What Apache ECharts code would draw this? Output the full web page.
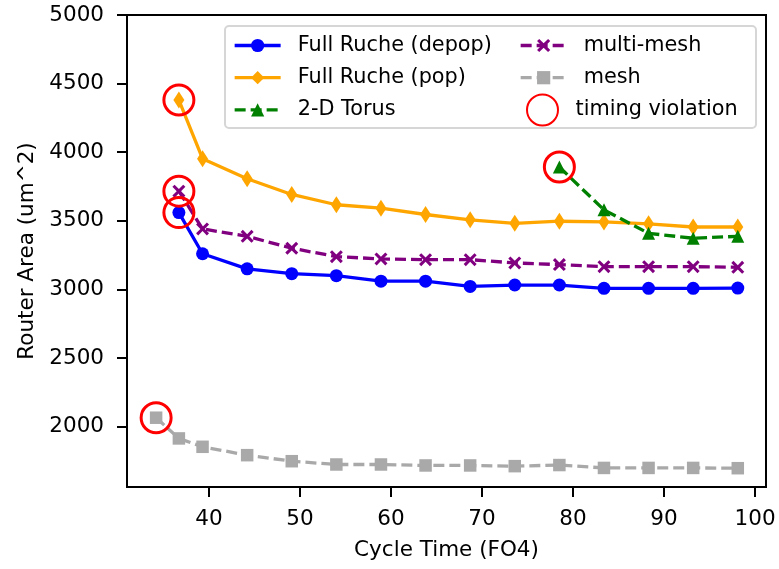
<!DOCTYPE html>
<html><head><meta charset="utf-8">
<script src="https://cdn.jsdelivr.net/npm/echarts@6/dist/echarts.min.js"></script>
<style>html,body{margin:0;padding:0;background:#fff}#c{width:779px;height:569px}</style>
</head><body><div id="c"></div>
<script>
// ---- data ----
const cycleTimes = [34.2, 36.7, 39.3, 44.2, 49.1, 54.0, 58.9, 63.8, 68.7, 73.6, 78.5, 83.4, 88.3, 93.2, 98.1];
const rucheX = cycleTimes.slice(1);
const fullRucheDepop = [3560, 3260, 3150, 3115, 3100, 3060, 3060, 3022, 3032, 3032, 3008, 3008, 3008, 3010];
const fullRuchePop = [4380, 3953, 3807, 3692, 3617, 3592, 3546, 3507, 3482, 3497, 3492, 3478, 3455, 3455];
const multiMesh = [3716, 3441, 3387, 3300, 3239, 3222, 3217, 3217, 3193, 3181, 3166, 3166, 3166, 3161];
const torusX = cycleTimes.slice(10);
const torus2D = [3892, 3580, 3409, 3373, 3387];
const meshX = cycleTimes;
const mesh = [2065, 1914, 1853, 1792, 1748, 1724, 1724, 1717, 1717, 1712, 1720, 1699, 1699, 1699, 1697];
const xTicks = [40, 50, 60, 70, 80, 90, 100];
const yTicks = [2000, 2500, 3000, 3500, 4000, 4500, 5000];
const names = ['Full Ruche (depop)', 'Full Ruche (pop)', '2-D Torus', 'multi-mesh', 'mesh', 'timing violation'];

const pairs = (xs, ys) => ys.map((y, i) => [xs[i], y]);
const violations = [
  [meshX[0], mesh[0]],
  [rucheX[0], fullRucheDepop[0]],
  [rucheX[0], fullRuchePop[0]],
  [rucheX[0], multiMesh[0]],
  [torusX[0], torus2D[0]]
];

const FONT = 'DejaVu Sans';
const FS = 20.8;
const AFS = 21.5;
const LW = 3.3;
const dash = [11, 5];
const xPath = 'path://M2,0 L6,4 L10,0 L12,2 L8,6 L12,10 L10,12 L6,8 L2,12 L0,10 L4,6 L0,2 Z';

const chart = echarts.init(document.getElementById('c'), null, {renderer: 'canvas'});
const legendText = {fontFamily: FONT, fontSize: FS, color: '#000', lineHeight: 21, padding: [0, 0, 0, 12]};
const lineSeries = (name, xs, ys, color, symbol, size, type) => ({
  name, type: 'line', data: pairs(xs, ys),
  symbol, symbolSize: size, showSymbol: true,
  lineStyle: {color, width: LW, type: type},
  itemStyle: {color, opacity: 1},
  emphasis: {disabled: true}, silent: true, z: 3
});
const baseLegend = {padding: 0, orient: 'vertical', itemWidth: 46, itemHeight: 16.5, itemGap: 11.2, z: 6,
  selectedMode: false, textStyle: legendText, lineStyle: {width: LW}};

chart.setOption({
  animation: false,
  backgroundColor: '#fff',
  grid: {left: 127, right: 13, top: 15, bottom: 82, show: true, borderColor: '#000', borderWidth: 2, backgroundColor: 'transparent'},
  xAxis: {
    type: 'value', min: 31.0, max: 101.2,
    name: 'Cycle Time (FO4)', nameLocation: 'middle', nameGap: 52,
    nameTextStyle: {fontFamily: FONT, fontSize: AFS, color: '#000'},
    axisLine: {show: true, onZero: false, lineStyle: {color: '#000', width: 2}},
    axisTick: {show: true, length: 10, lineStyle: {color: '#000', width: 2}, customValues: xTicks},
    axisLabel: {fontFamily: FONT, fontSize: AFS, color: '#000', margin: 21, customValues: xTicks,
                formatter: v => String(v)},
    splitLine: {show: false}
  },
  yAxis: {
    type: 'value', min: 1560, max: 5000,
    name: 'Router Area (um^2)', nameLocation: 'middle', nameGap: 85,
    nameTextStyle: {fontFamily: FONT, fontSize: AFS, color: '#000'},
    axisLine: {show: true, onZero: false, lineStyle: {color: '#000', width: 2}},
    axisTick: {show: true, length: 10, lineStyle: {color: '#000', width: 2}, customValues: yTicks},
    axisLabel: {fontFamily: FONT, fontSize: AFS, color: '#000', margin: 23, customValues: yTicks,
                formatter: v => String(v)},
    splitLine: {show: false}
  },
  graphic: [{
    type: 'rect', z: 4, silent: true,
    shape: {x: 225, y: 26, width: 531, height: 102, r: 4},
    style: {fill: 'rgba(255,255,255,0.8)', stroke: '#d6d6d6', lineWidth: 2}
  }],
  legend: [
    Object.assign({}, baseLegend, {left: 233, top: 35, data: names.slice(0, 3)}),
    Object.assign({}, baseLegend, {left: 519, top: 35, data: names.slice(3, 5)}),
    Object.assign({}, baseLegend, {left: 526, top: 93.5, itemHeight: 31, itemGap: 0, data: names.slice(5, 6),
      textStyle: Object.assign({}, legendText, {padding: [0, 0, 0, 5]})})
  ],
  series: [
    lineSeries(names[0], rucheX, fullRucheDepop, '#0000ff', 'circle', 13, 'solid'),
    lineSeries(names[1], rucheX, fullRuchePop, '#ffa500', 'diamond', [11, 17], 'solid'),
    lineSeries(names[2], torusX, torus2D, '#008000', 'triangle', 13, dash),
    lineSeries(names[3], rucheX, multiMesh, '#800080', xPath, 13, dash),
    lineSeries(names[4], meshX, mesh, '#a9a9a9', 'rect', 12.5, dash),
    {
      name: names[5], type: 'scatter', data: violations, symbol: 'circle', symbolSize: 30,
      itemStyle: {color: 'rgba(255,255,255,0)', borderColor: '#ff0000', borderWidth: 3, opacity: 1},
      emphasis: {disabled: true}, silent: true, z: 5
    }
  ]
});
</script></body></html>
